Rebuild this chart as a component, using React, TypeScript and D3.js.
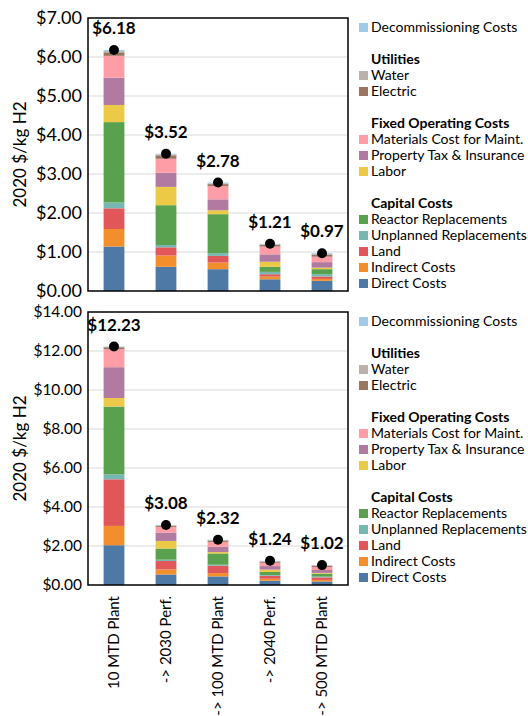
import React from 'react';
import * as d3 from 'd3';

// bar categories (x axis)
const categories = ['10 MTD Plant', '-> 2030 Perf.', '-> 100 MTD Plant', '-> 2040 Perf.', '-> 500 MTD Plant'];

// series names, bottom of the stack first
const seriesNames = [
  'Direct Costs',
  'Indirect Costs',
  'Land',
  'Unplanned Replacements',
  'Reactor Replacements',
  'Labor',
  'Property Tax & Insurance',
  'Materials Cost for Maint.',
  'Electric',
  'Water',
  'Decommissioning Costs',
];
const seriesColors = ['#4e79a7', '#f28e2b', '#e15759', '#76b7b2', '#59a14f', '#edc948', '#b07aa1', '#ff9da7', '#9c755f', '#bab0ac', '#a0cbe8'];

// top chart values ($/kg H2)
const topDirect = [1.14, 0.62, 0.56, 0.3, 0.26];
const topIndirect = [0.45, 0.29, 0.17, 0.07, 0.05];
const topLand = [0.53, 0.21, 0.17, 0.06, 0.06];
const topUnplanned = [0.15, 0.06, 0.07, 0.06, 0.06];
const topReactor = [2.06, 1.02, 1.0, 0.13, 0.13];
const topLabor = [0.44, 0.47, 0.1, 0.13, 0.04];
const topProperty = [0.7, 0.36, 0.28, 0.19, 0.14];
const topMaterials = [0.56, 0.36, 0.34, 0.2, 0.14];
const topElectric = [0.09, 0.09, 0.05, 0.04, 0.05];
const topWater = [0.03, 0.02, 0.02, 0.015, 0.02];
const topDecomm = [0.03, 0.02, 0.02, 0.015, 0.02];
const topTotals = [6.18, 3.52, 2.78, 1.21, 0.97];
const topTicks = [0, 1, 2, 3, 4, 5, 6, 7];

// bottom chart values ($/kg H2)
const botDirect = [2.04, 0.54, 0.44, 0.22, 0.18];
const botIndirect = [0.99, 0.26, 0.17, 0.1, 0.08];
const botLand = [2.39, 0.43, 0.38, 0.15, 0.13];
const botUnplanned = [0.25, 0.07, 0.05, 0.04, 0.04];
const botReactor = [3.48, 0.57, 0.58, 0.16, 0.15];
const botLabor = [0.44, 0.39, 0.07, 0.12, 0.04];
const botProperty = [1.58, 0.43, 0.27, 0.18, 0.15];
const botMaterials = [0.92, 0.29, 0.25, 0.17, 0.15];
const botElectric = [0.1, 0.06, 0.07, 0.06, 0.06];
const botWater = [0.02, 0.02, 0.02, 0.02, 0.02];
const botDecomm = [0.02, 0.02, 0.02, 0.02, 0.02];
const botTotals = [12.23, 3.08, 2.32, 1.24, 1.02];
const botTicks = [0, 2, 4, 6, 8, 10, 12, 14];

const topSeries = [topDirect, topIndirect, topLand, topUnplanned, topReactor, topLabor, topProperty, topMaterials, topElectric, topWater, topDecomm];
const botSeries = [botDirect, botIndirect, botLand, botUnplanned, botReactor, botLabor, botProperty, botMaterials, botElectric, botWater, botDecomm];

// legend groups (indices into seriesNames)
const legendGroups: { header: string | null; items: number[] }[] = [
  { header: null, items: [10] },
  { header: 'Utilities', items: [9, 8] },
  { header: 'Fixed Operating Costs', items: [7, 6, 5] },
  { header: 'Capital Costs', items: [4, 3, 2, 1, 0] },
];

const FONT = 'Lato, "Open Sans", sans-serif';
const left = 88;
const plotW = 260;
const plotH = 273;

function Panel({ series, totals, ticks, top, showX }) {
  const rows = categories.map((c, i) => {
    const r: any = { cat: c };
    seriesNames.forEach((s, k) => (r[s] = series[k][i]));
    return r;
  });
  const stacked = d3.stack().keys(seriesNames)(rows);
  const x = d3.scaleBand().domain(categories).range([left, left + plotW]).paddingInner(0.6).paddingOuter(0.3);
  const y = d3.scaleLinear().domain([0, ticks[ticks.length - 1]]).range([top + plotH, top]);
  const bw = x.bandwidth();

  // legend rows
  const legendRows: any[] = [];
  let ly = top + 9;
  legendGroups.forEach((g, gi) => {
    if (gi > 0) ly += 16;
    if (g.header) {
      legendRows.push({ header: g.header, y: ly });
      ly += 16;
    }
    g.items.forEach((k) => {
      legendRows.push({ k, y: ly });
      ly += 16;
    });
  });

  return (
    <g>
      {ticks.slice(1, -1).map((t) => (
        <line key={t} x1={left} x2={left + plotW} y1={y(t)} y2={y(t)} stroke="#d9d9d9" strokeWidth={1} />
      ))}
      {ticks.map((t) => (
        <text key={t} x={82} y={y(t)} dy="0.35em" textAnchor="end" fontSize={ticks[ticks.length - 1] > 10 ? 15.5 : 18} fontFamily={FONT} fill="#000">
          {d3.format('$.2f')(t)}
        </text>
      ))}
      <text
        transform={`translate(20,${top + plotH / 2}) rotate(-90)`}
        textAnchor="middle"
        dy="0.35em"
        fontSize={17}
        fontFamily={FONT}
      >
        2020 $/kg H2
      </text>
      {stacked.map((layer, k) =>
        layer.map((d, i) => (
          <rect
            key={k + '-' + i}
            x={x(categories[i])}
            y={y(d[1])}
            width={bw}
            height={Math.max(0, y(d[0]) - y(d[1]))}
            fill={seriesColors[k]}
          />
        ))
      )}
      {totals.map((t, i) => (
        <g key={i}>
          <circle cx={x(categories[i]) + bw / 2} cy={y(t)} r={5} fill="#000" />
          <text
            x={x(categories[i]) + bw / 2}
            y={y(t) - 16}
            textAnchor="middle"
            fontSize={17}
            fontWeight="bold"
            fontFamily={FONT}
          >
            {d3.format('$.2f')(t)}
          </text>
        </g>
      ))}
      <rect x={left} y={top} width={plotW} height={plotH} fill="none" stroke="#000" strokeWidth={1.5} />
      {legendRows.map((r, i) =>
        r.header ? (
          <text key={i} x={371} y={r.y} dy="0.35em" fontSize={14} fontWeight="bold" fontFamily={FONT}>
            {r.header}
          </text>
        ) : (
          <g key={i}>
            <rect x={359} y={r.y - 4} width={9} height={9} fill={seriesColors[r.k]} />
            <text x={371} y={r.y} dy="0.35em" fontSize={14} fontFamily={FONT}>
              {seriesNames[r.k]}
            </text>
          </g>
        )
      )}
      {showX &&
        categories.map((c) => (
          <text
            key={c}
            transform={`translate(${x(c) + bw / 2},${top + plotH + 11}) rotate(-90)`}
            textAnchor="end"
            dy="0.35em"
            fontSize={15}
            fontFamily={FONT}
          >
            {c}
          </text>
        ))}
    </g>
  );
}

export default function App() {
  return (
    <svg width={528} height={716} style={{ position: 'absolute', left: 0, top: 0, background: '#fff' }}>
      <rect width={528} height={716} fill="#fff" />
      <Panel series={topSeries} totals={topTotals} ticks={topTicks} top={18} showX={false} />
      <Panel series={botSeries} totals={botTotals} ticks={botTicks} top={312} showX={true} />
    </svg>
  );
}
